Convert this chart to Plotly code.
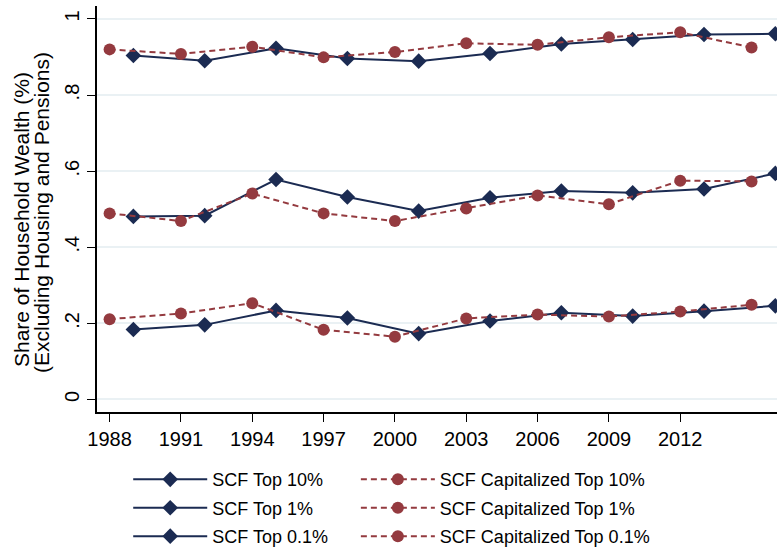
import plotly.graph_objects as go

# Survey years (SCF) and capitalized-income years
scf_years = [1989, 1992, 1995, 1998, 2001, 2004, 2007, 2010, 2013, 2016]
cap_years = [1988, 1991, 1994, 1997, 2000, 2003, 2006, 2009, 2012, 2015]

# Wealth shares (excluding housing and pensions)
scf_top10 = [0.904, 0.890, 0.923, 0.896, 0.889, 0.909, 0.934, 0.946, 0.959, 0.961]
cap_top10 = [0.920, 0.908, 0.927, 0.899, 0.913, 0.936, 0.932, 0.952, 0.965, 0.925]
scf_top1 = [0.481, 0.483, 0.578, 0.532, 0.495, 0.530, 0.548, 0.543, 0.553, 0.594]
cap_top1 = [0.489, 0.469, 0.541, 0.489, 0.469, 0.502, 0.536, 0.513, 0.575, 0.573]
scf_top01 = [0.184, 0.196, 0.234, 0.214, 0.173, 0.206, 0.228, 0.219, 0.232, 0.246]
cap_top01 = [0.211, 0.226, 0.253, 0.183, 0.165, 0.213, 0.223, 0.218, 0.231, 0.249]

x_ticks = [1988, 1991, 1994, 1997, 2000, 2003, 2006, 2009, 2012]
y_ticks = [0, 0.2, 0.4, 0.6, 0.8, 1]
y_tick_text = ["0", ".2", ".4", ".6", ".8", "1"]

y_title_lines = ["Share of Household Wealth (%)", "(Excluding Housing and Pensions)"]

NAVY = "#1b2b52"
MAROON = "#943a3f"
FONT = "Liberation Sans, Arial, Helvetica, sans-serif"

fig = go.Figure()

pairs = [
    ("SCF Top 10%", scf_top10, "SCF Capitalized Top 10%", cap_top10),
    ("SCF Top 1%", scf_top1, "SCF Capitalized Top 1%", cap_top1),
    ("SCF Top 0.1%", scf_top01, "SCF Capitalized Top 0.1%", cap_top01),
]

# SCF series go in the left legend column, capitalized series in the right one
for scf_name, scf_vals, cap_name, cap_vals in pairs:
    fig.add_trace(go.Scatter(
        x=scf_years, y=scf_vals, name=scf_name, mode="lines+markers",
        line=dict(color=NAVY, width=2),
        marker=dict(symbol="diamond", size=12, color=NAVY),
        legend="legend", legendgroup=scf_name,
    ))
    fig.add_trace(go.Scatter(
        x=cap_years, y=cap_vals, name=cap_name, mode="lines+markers",
        line=dict(color=MAROON, width=2, dash="6px,4px"),
        marker=dict(symbol="circle", size=12, color=MAROON),
        legend="legend2", legendgroup=cap_name,
    ))

legend_style = dict(
    orientation="v",
    xref="container", yref="container",
    yanchor="top", xanchor="left",
    itemwidth=74,
    font=dict(size=18, family=FONT),
    bgcolor="rgba(0,0,0,0)",
    tracegroupgap=2,
)

fig.update_layout(
    width=777, height=549,
    margin=dict(l=97, r=0, t=6, b=137, autoexpand=False),
    paper_bgcolor="white", plot_bgcolor="white",
    font=dict(family=FONT, size=18, color="black"),
    showlegend=True,
    legend=dict(legend_style, x=0.165, y=0.16),
    legend2=dict(legend_style, x=0.458, y=0.16),
)

# Two-line rotated y-axis title with tight line spacing
for text, xpos, ypos in [(y_title_lines[0], 21, 220), (y_title_lines[1], 41, 213)]:
    fig.add_annotation(
        text=text, textangle=-90,
        xref="paper", yref="paper",
        x=(xpos - 97) / 680, y=(412 - ypos) / 406,
        xanchor="center", yanchor="middle",
        showarrow=False, font=dict(size=21, family=FONT, color="black"),
    )

fig.update_xaxes(
    range=[1987.47, 2016.07],
    tickvals=x_ticks, ticktext=[str(v) for v in x_ticks],
    showgrid=False, zeroline=False,
    showline=True, linecolor="black", linewidth=1.5,
    ticks="outside", ticklen=8, tickwidth=1.2, tickcolor="black",
    tickfont=dict(size=20),
)
fig.update_yaxes(
    range=[-0.033, 1.034],
    tickvals=y_ticks, ticktext=y_tick_text, tickangle=-90,
    showgrid=True, gridcolor="#eaf1f4", gridwidth=1.5,
    zeroline=False,
    showline=True, linecolor="black", linewidth=1.5,
    ticks="outside", ticklen=8, tickwidth=1.2, tickcolor="black",
    tickfont=dict(size=20),
)

fig.write_html("out.html")
